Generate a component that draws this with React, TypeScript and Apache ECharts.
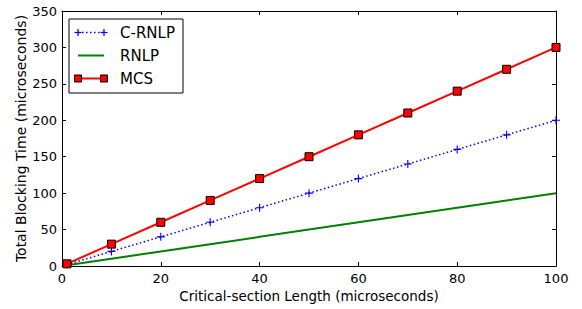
import React, { useEffect, useRef } from "react";
import * as echarts from "echarts";

const xValues = [1, 10, 20, 30, 40, 50, 60, 70, 80, 90, 100];
const crnlp = [2, 20, 40, 60, 80, 100, 120, 140, 160, 180, 200];
const rnlp = [1, 10, 20, 30, 40, 50, 60, 70, 80, 90, 100];
const mcs = [3, 30, 60, 90, 120, 150, 180, 210, 240, 270, 300];
const legendNames = ["C-RNLP", "RNLP", "MCS"];

const FONT = "DejaVu Sans";
const PLUS = "path://M4.3,0H5.7V4.3H10V5.7H5.7V10H4.3V5.7H0V4.3H4.3Z";

export default function App() {
  const ref = useRef<HTMLDivElement>(null);
  useEffect(() => {
    const chart = echarts.init(ref.current!, null, { renderer: "svg" });
    const pairs = (ys: number[]) => xValues.map((x, i) => [x, ys[i]]);
    const axisCommon = {
      type: "value" as const,
      axisLine: { show: true, onZero: false, lineStyle: { color: "#000", width: 1 } },
      axisTick: { show: true, inside: true, length: 4, lineStyle: { color: "#000" } },
      splitLine: { show: false },
    };
    const label = { color: "#000", fontFamily: FONT, fontSize: 13 };
    const lx = 69, ly = 19, rowGap = 23;
    const rows: any[] = [];
    const lineY = (i: number) => ly + 13.5 + i * rowGap;
    rows.push({
      type: "rect",
      shape: { x: lx, y: ly, width: 114, height: 74 },
      style: { fill: "#fff", stroke: "#000", lineWidth: 1 },
      z: 100,
    });
    const x0 = 78, x1 = 104;
    rows.push({ type: "line", shape: { x1: x0, y1: lineY(0), x2: x1, y2: lineY(0) }, style: { stroke: "#0000ff", lineWidth: 1.5, lineDash: [1.5, 2.5] }, z: 101 });
    [x0, x1].forEach((px) => {
      rows.push({ type: "line", shape: { x1: px - 3.5, y1: lineY(0), x2: px + 3.5, y2: lineY(0) }, style: { stroke: "#0000ff", lineWidth: 1.2 }, z: 102 });
      rows.push({ type: "line", shape: { x1: px, y1: lineY(0) - 3.5, x2: px, y2: lineY(0) + 3.5 }, style: { stroke: "#0000ff", lineWidth: 1.2 }, z: 102 });
    });
    rows.push({ type: "line", shape: { x1: x0, y1: lineY(1), x2: x1, y2: lineY(1) }, style: { stroke: "#008000", lineWidth: 2 }, z: 101 });
    rows.push({ type: "line", shape: { x1: x0, y1: lineY(2), x2: x1, y2: lineY(2) }, style: { stroke: "#ff0000", lineWidth: 2 }, z: 101 });
    [x0, x1].forEach((px) => {
      rows.push({ type: "rect", shape: { x: px - 3.5, y: lineY(2) - 3.5, width: 7, height: 7 }, style: { fill: "#ff0000", stroke: "#000", lineWidth: 1 }, z: 102 });
    });
    legendNames.forEach((n, i) => {
      rows.push({ type: "text", x: 120, y: lineY(i), style: { text: n, fontFamily: FONT, fontSize: 15, fill: "#000", verticalAlign: "middle" }, z: 103 });
    });

    chart.setOption({
      animation: false,
      backgroundColor: "#fff",
      grid: { left: 62, right: 26, top: 11, bottom: 43, containLabel: false, outerBoundsMode: "none" },
      xAxis: [
        {
          ...axisCommon,
          min: 0, max: 100, interval: 20,
          position: "bottom",
          name: "Critical-section Length (microseconds)",
          nameLocation: "middle",
          nameGap: 23,
          nameMoveOverlap: false,
          nameTextStyle: { ...label, fontSize: 13.5 },
          axisLabel: { ...label, margin: 6 },
        },
        {
          ...axisCommon,
          min: 0, max: 100, interval: 20,
          position: "top",
          axisLabel: { show: false },
        },
      ],
      yAxis: [
        {
          ...axisCommon,
          min: 0, max: 350, interval: 50,
          position: "left",
          name: "Total Blocking Time (microseconds)",
          nameLocation: "middle",
          nameGap: 34,
          nameMoveOverlap: false,
          nameTextStyle: { ...label, fontSize: 14 },
          axisLabel: { ...label, margin: 5 },
        },
        {
          ...axisCommon,
          min: 0, max: 350, interval: 50,
          position: "right",
          axisLabel: { show: false },
        },
      ],
      graphic: rows,
      series: [
        {
          name: "RNLP",
          type: "line",
          data: pairs(rnlp),
          showSymbol: false,
          symbol: "none",
          lineStyle: { color: "#008000", width: 2 },
          itemStyle: { color: "#008000" },
          z: 2,
        },
        {
          name: "C-RNLP",
          type: "line",
          data: pairs(crnlp),
          symbol: PLUS,
          symbolSize: 8,
          lineStyle: { color: "#0000ff", width: 1.5, type: [1.5, 2.5] },
          itemStyle: { color: "#0000ff" },
          z: 3,
        },
        {
          name: "MCS",
          type: "line",
          data: pairs(mcs),
          symbol: "rect",
          symbolSize: 8,
          lineStyle: { color: "#ff0000", width: 2 },
          itemStyle: { color: "#ff0000", borderColor: "#000", borderWidth: 1 },
          z: 4,
        },
      ],
    });
    return () => chart.dispose();
  }, []);
  return <div ref={ref} style={{ width: 582, height: 309, position: "absolute", left: 0, top: 0 }} />;
}
